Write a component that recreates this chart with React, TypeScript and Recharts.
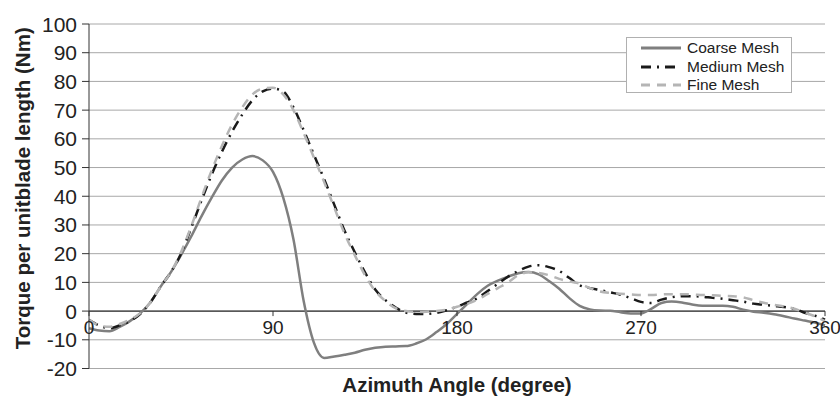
import {
  CartesianGrid,
  Line,
  LineChart,
  ReferenceDot,
  ReferenceLine,
  XAxis,
  YAxis,
} from "recharts";

// azimuth angle in degrees, shared by all three meshes
const angles = [
  0, 5, 10, 15, 20, 25, 30, 35, 40, 45, 50, 55, 60, 65, 70, 75, 80, 85, 90, 95,
  100, 105, 110, 115, 120, 125, 130, 135, 140, 145, 150, 155, 160, 165, 170, 175,
  180, 185, 190, 195, 200, 205, 210, 215, 220, 225, 230, 235, 240, 245, 250, 255,
  260, 265, 270, 275, 280, 285, 290, 295, 300, 305, 310, 315, 320, 325, 330, 335,
  340, 345, 350, 355, 360,
];

const coarse = [
  -6, -6.8, -7, -5.5, -3.5, -0.8, 3, 8.5, 13.5, 19.5, 26, 33, 39.5, 45.5, 50, 52.8,
  54, 52.5, 48.5, 39.5, 25, 3.5, -11, -16.3, -15.8, -15.2, -14.5, -13.5, -12.8,
  -12.4, -12.3, -12.2, -11.3, -9.8, -7.3, -4.5, -1, 2.5, 6, 8.8, 10.6, 12, 13.2,
  13.6, 12.8, 10.5, 7.8, 4.5, 1.8, 0.6, 0.2, 0.1, -0.4, -0.8, -0.8, 0.8, 2.8, 3.3,
  3, 2.3, 1.9, 1.9, 1.9, 1.5, 0.5, -0.2, -0.6, -1.1, -1.8, -2.6, -3.3, -4, -5,
];

const medium = [
  -3, -5, -6, -5, -3.5, -1, 3, 8.5, 13.5, 20, 29, 38.5, 47.5, 55.5, 62.5, 68.5,
  73.5, 76.5, 77.5, 76.5, 71, 63, 54.5, 46, 37, 28, 20.5, 13.5, 7.5, 3.8, 1.2,
  -0.5, -1, -1, -0.6, 0.3, 1.5, 3, 4.5, 7, 9.5, 12, 14, 15.5, 16, 15.3, 14, 11.5,
  9, 8, 7.3, 6.5, 5.7, 4.5, 3.2, 2.8, 4, 4.8, 5.2, 5.2, 5, 4.6, 4.3, 3.8, 3.3,
  2.6, 2.2, 1.8, 1.4, 0.8, -0.6, -1.6, -3,
];

const fine = [
  -3, -5, -5.5, -4.5, -3, -0.8, 3, 8.5, 13.5, 20.5, 29.5, 39.5, 49, 57.5, 65, 71,
  75.5, 77.5, 77.8, 75.5, 70, 62, 53.5, 45, 36, 27, 19.5, 12.5, 7, 3.5, 1, 0,
  -0.3, -0.2, 0, 0.5, 1.5, 2.5, 4, 6, 8, 10, 12.5, 13.5, 13.3, 12.5, 11.2, 10.3,
  9.6, 8, 6.8, 6.3, 6, 5.8, 5.6, 5.6, 5.8, 5.9, 5.9, 5.8, 5.6, 5.5, 5.3, 5.2,
  4.8, 3.8, 2.9, 2.2, 1.6, 0.8, -0.5, -1.8, -3.5,
];

const xTicks = [0, 90, 180, 270, 360];
const yTicks = [-20, -10, 0, 10, 20, 30, 40, 50, 60, 70, 80, 90, 100];

const FONT = '"Liberation Sans", Arial, sans-serif';
const INK = "#222";

const series = [
  { key: "coarse", name: "Coarse Mesh", color: "#7f7f7f", dash: undefined },
  { key: "medium", name: "Medium Mesh", color: "#1a1a1a", dash: "10 6 2 6" },
  { key: "fine", name: "Fine Mesh", color: "#b5b5b5", dash: "9 7" },
];

const data = angles.map((a, i) => ({
  angle: a,
  coarse: coarse[i],
  medium: medium[i],
  fine: fine[i],
}));

function YTitle({ viewBox }: any) {
  const cx = viewBox.x + 22;
  const cy = viewBox.y + viewBox.height / 2 - 8;
  return (
    <text
      x={cx}
      y={cy}
      transform={`rotate(-90 ${cx} ${cy})`}
      textAnchor="middle"
      dominantBaseline="central"
      fontFamily={FONT}
      fontWeight="bold"
      fontSize={20.5}
      fill={INK}
    >
      Torque per unitblade length (Nm)
    </text>
  );
}

function XTitle({ viewBox }: any) {
  return (
    <text
      x={viewBox.x + viewBox.width / 2}
      y={viewBox.y + 23}
      textAnchor="middle"
      fontFamily={FONT}
      fontWeight="bold"
      fontSize={20.5}
      fill={INK}
    >
      Azimuth Angle (degree)
    </text>
  );
}

function YTick({ x, y, payload }: any) {
  return (
    <text
      x={x}
      y={y}
      textAnchor="end"
      dominantBaseline="central"
      fontFamily={FONT}
      fontSize={21}
      fill={INK}
    >
      {payload.value}
    </text>
  );
}

// x ticks sit on the zero line rather than at the bottom of the plot
function ZeroTick(label: number) {
  return (props: any) => (
    <g>
      <line x1={props.cx} y1={props.cy} x2={props.cx} y2={props.cy + 5} stroke="#333" />
      <text
        x={props.cx}
        y={props.cy + 23}
        textAnchor="middle"
        fontFamily={FONT}
        fontSize={19}
        fill={INK}
      >
        {label}
      </text>
    </g>
  );
}

function MeshLegend() {
  return (
    <div
      style={{
        position: "absolute",
        left: 626,
        top: 37,
        width: 166,
        height: 56,
        border: "1px solid #b0b0b0",
        background: "#fff",
        fontFamily: FONT,
        fontSize: 15.5,
        color: INK,
        paddingTop: 0.5,
        boxSizing: "border-box",
      }}
    >
      {series.map((s) => (
        <div key={s.key} style={{ display: "flex", alignItems: "center", height: 18.8 }}>
          <svg width={60} height={10} style={{ flex: "none" }}>
            <line
              x1={14}
              y1={5}
              x2={54}
              y2={5}
              stroke={s.color}
              strokeWidth={3}
              strokeDasharray={s.dash}
            />
          </svg>
          <span>{s.name}</span>
        </div>
      ))}
    </div>
  );
}

export default function App() {
  return (
    <div style={{ position: "fixed", left: 0, top: 0, width: 840, height: 404, background: "#fff" }}>
      <LineChart
        width={840}
        height={404}
        data={data}
        margin={{ top: 24, right: 15, left: 0, bottom: 0 }}
      >
        <CartesianGrid vertical={false} stroke="#a8a8a8" />
        <XAxis
          dataKey="angle"
          type="number"
          domain={[0, 360]}
          ticks={xTicks}
          axisLine={false}
          tickLine={false}
          tick={false}
          height={35.5}
          label={<XTitle />}
        />
        <YAxis
          type="number"
          domain={[-20, 100]}
          ticks={yTicks}
          interval={0}
          width={89}
          tickSize={7}
          tickMargin={5}
          axisLine={{ stroke: "#333" }}
          tickLine={{ stroke: "#333" }}
          tick={<YTick />}
          label={<YTitle />}
        />
        <ReferenceLine y={0} stroke="#333" strokeWidth={1.2} />
        {xTicks.map((t) => (
          <ReferenceDot
            key={t}
            x={t}
            y={0}
            r={0}
            ifOverflow="visible"
            shape={ZeroTick(t)}
          />
        ))}
        {series.map((s) => (
          <Line
            key={s.key}
            dataKey={s.key}
            name={s.name}
            type="monotone"
            stroke={s.color}
            strokeWidth={2.5}
            strokeDasharray={s.dash}
            dot={false}
            isAnimationActive={false}
          />
        ))}
      </LineChart>
      <MeshLegend />
    </div>
  );
}
